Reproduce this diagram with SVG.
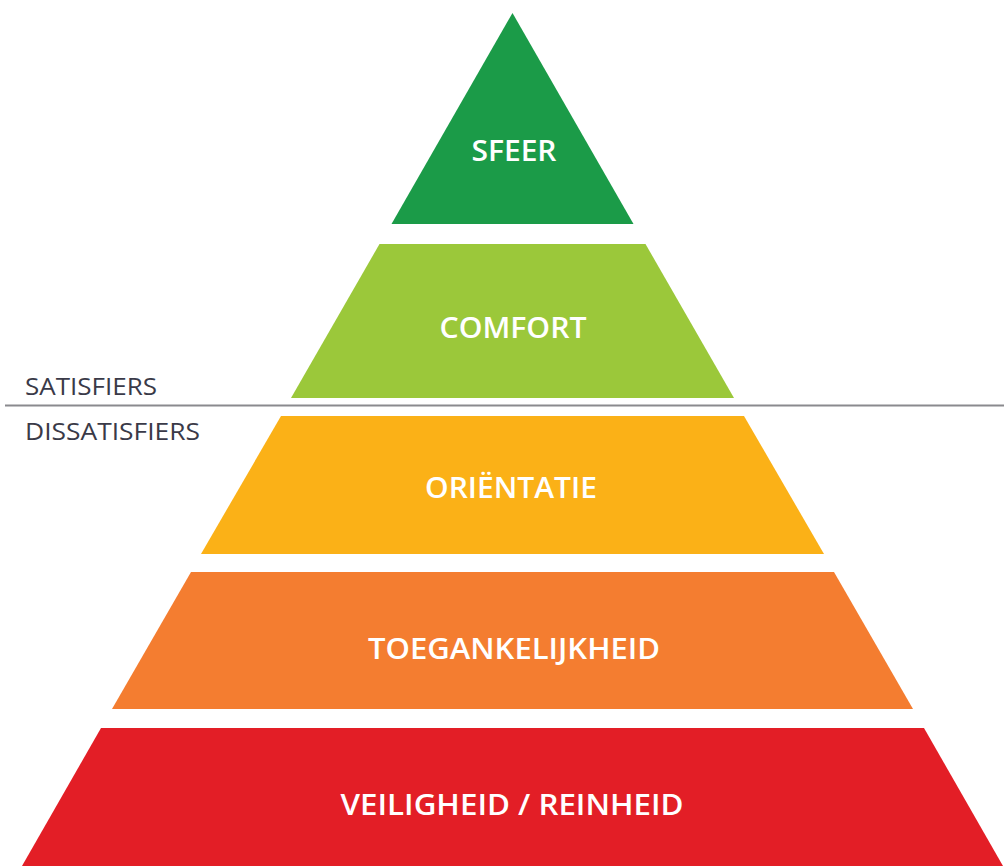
<svg xmlns="http://www.w3.org/2000/svg" width="1004" height="866" viewBox="0 0 1004 866">
<style>
.lbl{font-family:"Open Sans","Liberation Sans",sans-serif;font-weight:600;font-size:29px;fill:#ffffff;text-anchor:middle}
.side{font-family:"Open Sans","Liberation Sans",sans-serif;font-weight:400;font-size:23px;fill:#3a3a48}
</style>
<rect width="1004" height="866" fill="#ffffff"/>
<g id="sfeer">
<polygon points="512.5,13 633.5,224 391.5,224" fill="#1b9b48"/>
<text class="lbl" x="514" y="161" textLength="85" lengthAdjust="spacingAndGlyphs">SFEER</text>
</g>
<g id="comfort">
<polygon points="379.5,244 645.5,244 734,398 291,398" fill="#9bc83a"/>
<text class="lbl" x="513" y="338" textLength="147" lengthAdjust="spacingAndGlyphs">COMFORT</text>
</g>
<g id="orientatie">
<polygon points="281,416 744,416 824,554 201,554" fill="#fbb117"/>
<text class="lbl" x="511" y="498" textLength="172" lengthAdjust="spacingAndGlyphs">ORIËNTATIE</text>
</g>
<g id="toegankelijkheid">
<polygon points="191,572 834,572 913,709 112,709" fill="#f47d30"/>
<text class="lbl" x="514" y="659" textLength="292" lengthAdjust="spacingAndGlyphs">TOEGANKELIJKHEID</text>
</g>
<g id="veiligheid">
<polygon points="101,728 924,728 1003,866 22,866" fill="#e31e26"/>
<text class="lbl" x="512" y="815" textLength="343" lengthAdjust="spacingAndGlyphs">VEILIGHEID / REINHEID</text>
</g>
<g id="divider">
<line x1="5" y1="405.5" x2="1004" y2="405.5" stroke="#8a8a8e" stroke-width="2"/>
<text class="side" x="25" y="395" textLength="132" lengthAdjust="spacingAndGlyphs">SATISFIERS</text>
<text class="side" x="25" y="440" textLength="175" lengthAdjust="spacingAndGlyphs">DISSATISFIERS</text>
</g>
</svg>
